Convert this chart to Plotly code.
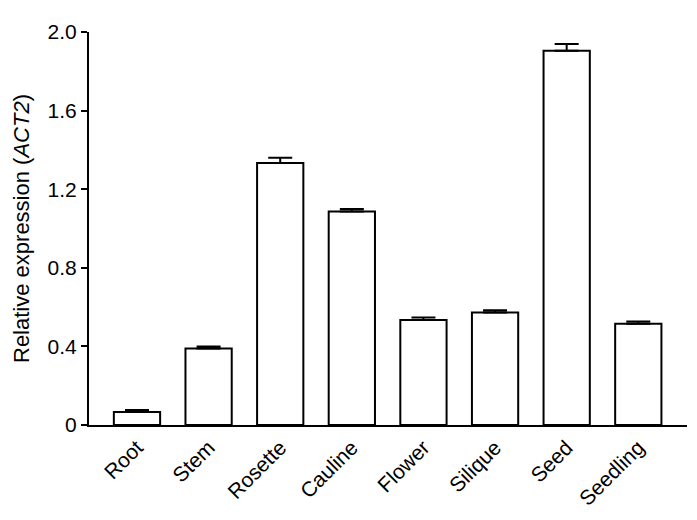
import plotly.graph_objects as go

categories = ["Root", "Stem", "Rosette", "Cauline", "Flower", "Silique", "Seed", "Seedling"]
values = [0.066, 0.389, 1.333, 1.087, 0.534, 0.572, 1.905, 0.515]
errors = [0.010, 0.011, 0.027, 0.012, 0.013, 0.012, 0.034, 0.012]
y_ticks = [0, 0.4, 0.8, 1.2, 1.6, 2.0]
y_tick_labels = ["0", "0.4", "0.8", "1.2", "1.6", "2.0"]

fig = go.Figure()
fig.add_trace(go.Bar(
    x=categories, y=values,
    marker=dict(color="white", line=dict(color="black", width=2)),
    error_y=dict(type="data", array=errors, symmetric=False, arrayminus=[0]*len(errors),
                 color="black", thickness=2, width=12),
    width=0.646,
))

font = "Liberation Sans, Arial, sans-serif"
# page body has an 8px default margin, so margins are reduced by 8px on left/top
fig.update_layout(
    width=697, height=520,
    margin=dict(l=78, r=18, t=16, b=103),
    plot_bgcolor="white", paper_bgcolor="white",
    showlegend=False,
    font=dict(family=font, size=21, color="black"),
    xaxis=dict(
        range=[-0.67, 7.68], showline=True, linecolor="black", linewidth=2,
        ticks="", tickangle=-45, tickfont=dict(size=21), showgrid=False, zeroline=False,
    ),
    yaxis=dict(
        range=[0, 2.0], showline=True, linecolor="black", linewidth=2,
        ticks="outside", ticklen=6, tickwidth=2, tickcolor="black",
        tickvals=y_ticks, ticktext=y_tick_labels, tickfont=dict(size=21),
        showgrid=False, zeroline=False,
        title=dict(text="Relative expression (<i>ACT2</i>)", font=dict(size=22), standoff=12),
    ),
)

fig.write_html("out.html")
